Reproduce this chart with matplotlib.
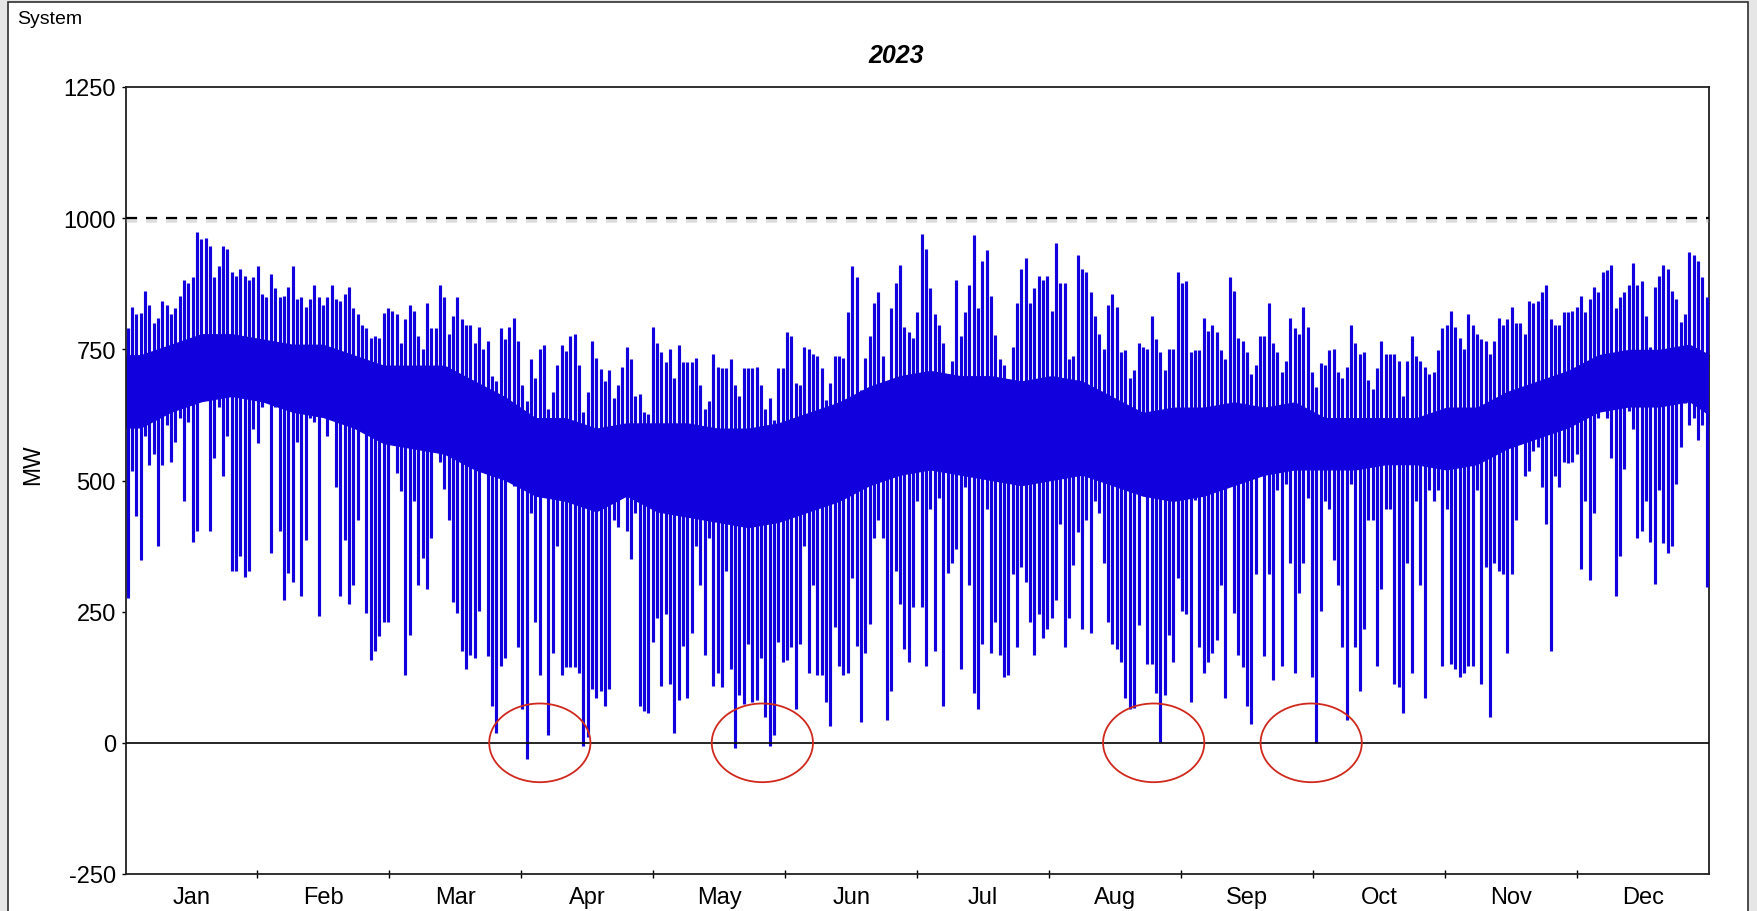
"""
plot.py
Hourly system MW for 2023, shown as daily spikes over a dense core band.
"""

import numpy as np
import matplotlib.pyplot as plt
import matplotlib.patches as mpatches
import matplotlib.patheffects as pe

plt.rcParams['font.family'] = ['Liberation Sans', 'DejaVu Sans']
plt.rcParams['axes.unicode_minus'] = False

# ── Data ─────────────────────────────────────────────────────────────────────
YEAR     = "2023"
PANEL    = "System"
Y_LABEL  = "MW"
MONTHS   = ["Jan", "Feb", "Mar", "Apr", "May", "Jun",
            "Jul", "Aug", "Sep", "Oct", "Nov", "Dec"]
Y_TICKS  = [-250, 0, 250, 500, 750, 1000, 1250]
LIMIT_MW = 1000

# daily peak (MW), day 0 = 1 Jan
DAY_MAX = [
    790, 831, 817, 820, 862, 835, 800, 810, 842, 835,
    817, 828, 852, 883, 876, 887, 974, 960, 963, 946,
    887, 908, 946, 942, 897, 890, 904, 890, 883, 887,
    908, 856, 849, 894, 866, 849, 852, 869, 908, 845,
    849, 830, 845, 872, 849, 835, 849, 872, 845, 842,
    856, 869, 828, 817, 797, 790, 772, 776, 772, 820,
    828, 824, 817, 762, 807, 835, 824, 776, 751, 838,
    790, 790, 873, 849, 779, 814, 849, 807, 797, 797,
    762, 793, 751, 765, 699, 689, 790, 769, 793, 810,
    765, 682, 651, 731, 696, 751, 758, 637, 668, 720,
    758, 747, 776, 779, 720, 630, 668, 765, 734, 713,
    689, 710, 658, 682, 717, 755, 731, 661, 665, 630,
    626, 793, 762, 745, 726, 751, 696, 758, 726, 726,
    726, 733, 682, 637, 651, 741, 717, 714, 714, 731,
    682, 661, 714, 714, 714, 717, 682, 637, 658, 616,
    714, 714, 783, 776, 686, 682, 755, 751, 741, 738,
    714, 654, 686, 738, 738, 734, 821, 908, 887, 672,
    734, 776, 838, 859, 738, 658, 828, 876, 911, 793,
    783, 772, 821, 970, 942, 866, 817, 797, 762, 703,
    728, 883, 776, 821, 873, 967, 828, 918, 939, 852,
    778, 731, 720, 675, 755, 838, 904, 925, 838, 866,
    890, 883, 890, 824, 953, 876, 876, 731, 738, 929,
    904, 897, 859, 814, 779, 751, 835, 856, 831, 745,
    748, 696, 710, 762, 755, 751, 814, 769, 745, 710,
    751, 751, 897, 876, 880, 745, 748, 748, 810, 785,
    797, 783, 748, 731, 887, 862, 772, 765, 745, 703,
    720, 776, 776, 838, 762, 745, 706, 728, 810, 790,
    779, 831, 793, 706, 678, 724, 720, 748, 751, 706,
    696, 717, 797, 762, 741, 745, 692, 675, 714, 765,
    741, 741, 741, 728, 661, 728, 776, 738, 728, 717,
    703, 706, 748, 790, 797, 824, 792, 772, 751, 817,
    797, 779, 769, 765, 741, 765, 810, 797, 807, 831,
    800, 800, 779, 842, 838, 842, 859, 873, 807, 797,
    797, 821, 821, 824, 831, 852, 821, 845, 869, 859,
    897, 901, 911, 828, 849, 859, 873, 915, 873, 880,
    814, 755, 869, 890, 911, 904, 862, 845, 803, 817,
    936, 929, 918, 887, 849,
]

# daily trough (MW)
DAY_MIN = [
    276, 519, 432, 349, 585, 529, 550, 376, 529, 606,
    536, 574, 619, 460, 612, 383, 404, 689, 675, 404,
    543, 640, 508, 585, 328, 328, 356, 317, 328, 599,
    571, 640, 650, 362, 640, 404, 272, 324, 307, 574,
    279, 387, 619, 612, 241, 644, 585, 661, 487, 279,
    387, 265, 300, 425, 619, 248, 158, 175, 203, 231,
    231, 585, 515, 480, 130, 206, 460, 300, 352, 293,
    390, 592, 536, 484, 425, 269, 248, 175, 140, 168,
    161, 251, 526, 165, 71, 19, 147, 161, 512, 490,
    182, 64, -30, 439, 231, 130, 508, 15, 172, 376,
    130, 144, 144, 144, 133, -6, 12, 102, 85, 99,
    71, 102, 425, 411, 533, 404, 350, 439, 71, 60,
    56, 192, 238, 109, 245, 113, 19, 81, 185, 85,
    210, 376, 300, 168, 390, 109, 133, 106, 328, 140,
    -9, 92, 74, 189, 78, 81, 161, 50, -6, 15,
    192, 154, 157, 182, 64, 189, 376, 133, 300, 130,
    130, 78, 33, 220, 147, 130, 133, 314, 185, 40,
    172, 227, 390, 425, 390, 44, 99, 328, 265, 178,
    154, 258, 460, 258, 147, 446, 175, 467, 71, 324,
    342, 369, 140, 488, 300, 95, 64, 189, 446, 172,
    231, 168, 126, 130, 321, 182, 335, 307, 231, 168,
    245, 199, 217, 238, 272, 418, 182, 238, 338, 401,
    217, 425, 210, 460, 439, 342, 231, 189, 178, 154,
    85, 64, 67, 224, 488, 150, 150, 95, 2, 92,
    206, 154, 314, 251, 245, 78, 463, 182, 133, 154,
    172, 196, 300, 85, 550, 248, 168, 144, 71, 36,
    321, 529, 165, 321, 119, 481, 147, 494, 342, 133,
    286, 342, 467, 126, 0, 251, 460, 446, 349, 300,
    182, 44, 494, 182, 99, 217, 425, 425, 147, 293,
    446, 446, 113, 106, 57, 342, 133, 460, 300, 85,
    481, 460, 481, 147, 446, 151, 140, 126, 133, 147,
    147, 481, 113, 335, 50, 342, 328, 321, 172, 321,
    425, 606, 508, 519, 557, 564, 488, 418, 175, 508,
    488, 536, 533, 536, 550, 331, 460, 310, 439, 619,
    647, 619, 543, 279, 356, 522, 633, 599, 390, 404,
    460, 383, 303, 481, 380, 362, 376, 494, 564, 647,
    606, 619, 578, 606, 297,
]

# weekly fully-solid band (where most hours sit)
CORE_HI = [740, 760, 780, 780, 770, 760, 760, 740, 720, 720,
           720, 690, 660, 620, 620, 600, 610, 610, 610, 600,
           600, 610, 630, 650, 680, 700, 710, 700, 700, 690,
           700, 690, 660, 630, 640, 640, 650, 640, 650, 620,
           620, 620, 620, 640, 640, 670, 690, 710, 740, 750,
           750, 760, 730]
CORE_LO = [600, 630, 650, 660, 650, 630, 620, 600, 570, 560,
           550, 520, 500, 470, 460, 440, 470, 440, 430, 420,
           410, 420, 440, 460, 490, 510, 520, 510, 500, 490,
           500, 510, 490, 470, 460, 470, 490, 510, 520, 520,
           520, 530, 530, 520, 530, 560, 580, 600, 630, 640,
           640, 650, 610]

# days marked with red circles (near-zero dips)
CIRCLED_DAYS = [95.5, 146.8, 237.0, 273.3]

BLUE = "#1100dd"
RED  = "#d0281c"

# ── Layout ───────────────────────────────────────────────────────────────────
W, H = 1757, 912
fig = plt.figure(figsize=(W / 100, H / 100), dpi=100)
fig.patch.set_facecolor("#e6e6e6")
fig.patches.append(mpatches.Rectangle(
    (8 / W, -0.01), (1748 - 8) / W, 1.01 - 3 / H,
    transform=fig.transFigure, facecolor="white",
    edgecolor="#303030", lw=1.2, zorder=-10))

ax = fig.add_axes([125.5 / W, 1 - 875 / H, (1709 - 125.5) / W, (875 - 88) / H])
ax.set_facecolor("white")

hours_per_month = 730
day_x  = np.arange(len(DAY_MAX)) * 24 + 12
week_x = np.arange(len(CORE_HI)) * 168 + 84
core_x  = np.concatenate([[0], week_x, [8760]])
core_hi = np.concatenate([[CORE_HI[0]], CORE_HI, [CORE_HI[-1]]])
core_lo = np.concatenate([[CORE_LO[0]], CORE_LO, [CORE_LO[-1]]])

ax.fill_between(core_x, core_lo, core_hi, color=BLUE, lw=0, zorder=2)
ax.vlines(day_x, DAY_MIN, DAY_MAX, color=BLUE, lw=2.25, zorder=3)

# reference lines
ax.axhline(0, color="black", lw=1.2, zorder=4)
ax.axhline(LIMIT_MW, color="black", lw=1.6, ls=(0, (5, 4)), zorder=4,
           path_effects=[pe.SimpleLineShadow(offset=(0, -1.5), shadow_color="#a0a0a0",
                                             alpha=0.35, linewidth=4),
                         pe.Normal()])

for d in CIRCLED_DAYS:
    ax.add_patch(mpatches.Ellipse((d * 24, 0), width=560, height=150,
                                  fill=False, ec=RED, lw=1.3, zorder=5))

# axes
ax.set_xlim(0, 8760)
ax.set_ylim(-250, 1250)
ax.set_yticks(Y_TICKS)
ax.set_xticks(np.arange(1, 12) * hours_per_month)
ax.set_xticklabels([])
ax.set_xticks(np.arange(12) * hours_per_month + hours_per_month / 2, minor=True)
ax.set_xticklabels(MONTHS, minor=True)

ax.tick_params(axis="y", direction="out", length=3, width=1, labelsize=17, pad=4)
ax.tick_params(axis="x", which="major", direction="inout", length=6, width=1)
ax.tick_params(axis="x", which="minor", length=0, labelsize=17, pad=9)
for s in ax.spines.values():
    s.set_linewidth(1.3)
    s.set_color("#202020")

fig.text(17 / W, 1 - 19 / H, PANEL, fontsize=14, va="center", ha="left")
fig.text(896 / W, 1 - 56 / H, YEAR, fontsize=18, fontweight="bold",
         fontstyle="italic", ha="center", va="center")
fig.text(33 / W, 1 - 465 / H, Y_LABEL, fontsize=16.5, rotation=90,
         ha="center", va="center")

fig.savefig("out.png", dpi=100, facecolor=fig.get_facecolor())
